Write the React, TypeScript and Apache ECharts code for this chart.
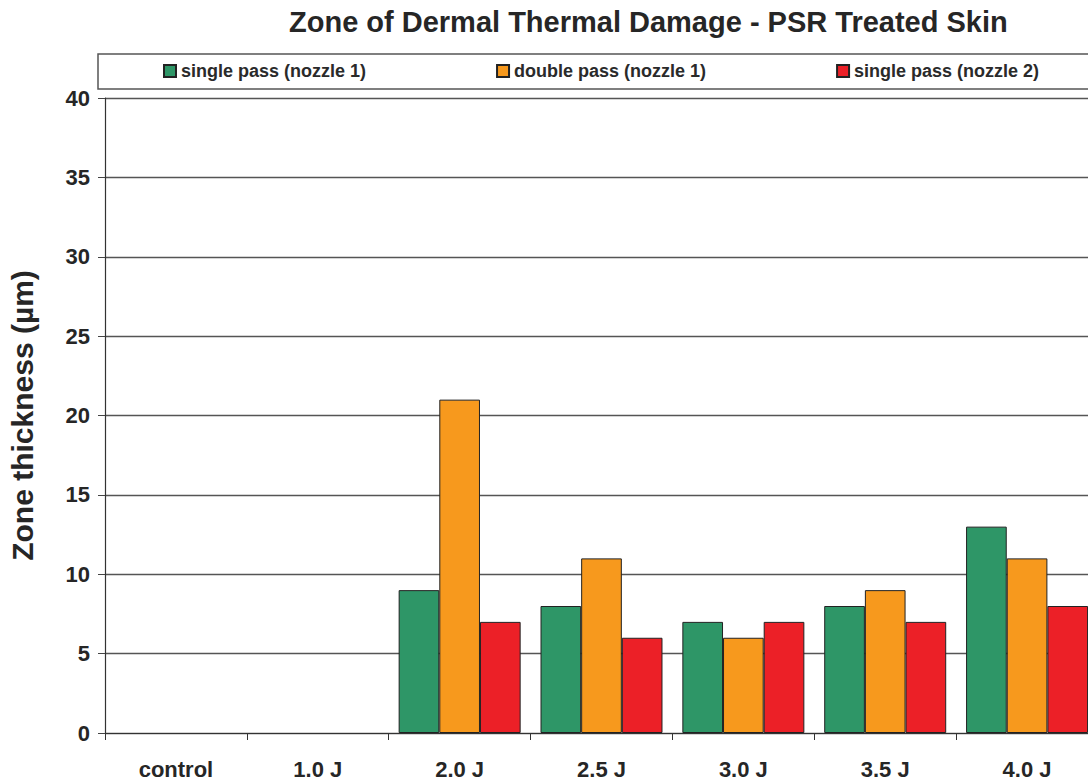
import React, { useEffect, useRef } from "react";
import * as echarts from "echarts";

const categories = ["control", "1.0 J", "2.0 J", "2.5 J", "3.0 J", "3.5 J", "4.0 J"];
const singlePassNozzle1 = [null, null, 9, 8, 7, 8, 13];
const doublePassNozzle1 = [null, null, 21, 11, 6, 9, 11];
const singlePassNozzle2 = [null, null, 7, 6, 7, 7, 8];
const seriesNames = ["single pass (nozzle 1)", "double pass (nozzle 1)", "single pass (nozzle 2)"];
const seriesColors = ["#2E9667", "#F7991D", "#EC2027"];

const FONT = "'Liberation Sans', Arial, Helvetica, sans-serif";

export default function App() {
  const ref = useRef<HTMLDivElement>(null);
  useEffect(() => {
    if (!ref.current) return;
    const chart = echarts.init(ref.current, undefined, { renderer: "svg" });
    const dataSets = [singlePassNozzle1, doublePassNozzle1, singlePassNozzle2];
    chart.setOption({
      animation: false,
      backgroundColor: "#ffffff",
      title: {
        text: "Zone of Dermal Thermal Damage - PSR Treated Skin",
        left: 289,
        top: 7,
        padding: 0,
        textStyle: { fontFamily: FONT, fontSize: 29, fontWeight: "bold", color: "#262626" },
      },
      graphic: [
        {
          type: "rect",
          shape: { x: 98, y: 54, width: 1100, height: 35 },
          style: { fill: "none", stroke: "#555", lineWidth: 1.5 },
          z: 1,
        },
      ],
      legend: {
        left: 163,
        top: 62,
        padding: 0,
        itemWidth: 12,
        itemHeight: 12,
        itemGap: 130,
        icon: "rect",
        textStyle: { fontFamily: FONT, fontSize: 18, fontWeight: "bold", color: "#2a2a2a" },
        data: seriesNames,
      },
      grid: {
        left: 105,
        top: 98,
        width: 993,
        bottom: 51,
        containLabel: false,
        outerBoundsMode: "none",
      },
      xAxis: {
        type: "category",
        data: categories,
        axisLine: { show: true, lineStyle: { color: "#333", width: 1.2 } },
        axisTick: { show: true, length: 7, alignWithLabel: false, lineStyle: { color: "#333" } },
        axisLabel: {
          margin: 25,
          fontFamily: FONT,
          fontSize: 22,
          fontWeight: "bold",
          color: "#262626",
        },
      },
      yAxis: {
        type: "value",
        min: 0,
        max: 40,
        interval: 5,
        name: "Zone thickness (µm)",
        nameLocation: "middle",
        nameRotate: 90,
        nameGap: 68,
        nameTextStyle: { fontFamily: FONT, fontSize: 30, fontWeight: "bold", color: "#262626" },
        axisLine: { show: true, lineStyle: { color: "#333", width: 1.2 } },
        axisTick: { show: true, length: 7, lineStyle: { color: "#444" } },
        axisLabel: {
          margin: 15,
          fontFamily: FONT,
          fontSize: 22,
          fontWeight: "bold",
          color: "#262626",
        },
        splitLine: { show: true, lineStyle: { color: "#555", width: 1.3 } },
      },
      series: seriesNames.map((name, i) => ({
        name,
        type: "bar",
        data: dataSets[i],
        barGap: "0%",
        barCategoryGap: "14%",
        itemStyle: { color: seriesColors[i], borderColor: "#222", borderWidth: 1 },
      })),
    });
    return () => chart.dispose();
  }, []);
  return (
    <div
      ref={ref}
      style={{ position: "absolute", left: 0, top: 0, width: 1088, height: 784 }}
    />
  );
}
